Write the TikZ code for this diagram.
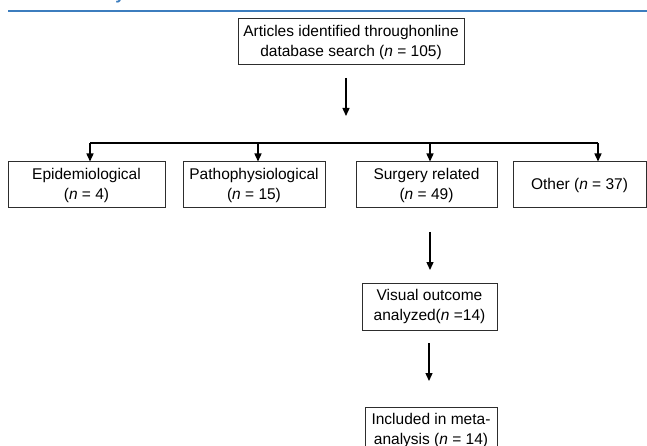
\documentclass[tikz,border=0pt]{standalone}
\usepackage{fontspec}
\setmainfont{Liberation Sans}
\usetikzlibrary{arrows.meta}
\definecolor{headblue}{RGB}{60,125,190}
\definecolor{boxgray}{RGB}{45,45,45}
\begin{document}
\begin{tikzpicture}[x=1pt, y=-1pt,
    font=\fontsize{15.5}{20}\selectfont,
    box/.style={draw=boxgray, line width=1pt, inner sep=0pt, align=center},
    flow/.style={-{Triangle[length=8pt,width=7pt]}, line width=1.4pt, black}]
  \useasboundingbox (0,0) rectangle (647,446);
  % Heading rule (cut at the top)
  \draw[headblue, line width=1.2pt] (8,11) -- (647,11);
  \node[anchor=base, text=headblue, font=\fontsize{17}{20}\selectfont\bfseries] (head) at (120,0) {y};
  % Search box
  \node[box, minimum width=226pt, minimum height=46pt] (search) at (351,42)
    {Articles identified throughonline\\database search (\textit{n} = 105)};
  \coordinate (s1) at (346,78);
  \coordinate (s2) at (346,116);
  \draw[flow] (s1) -- (s2);
  % Split line
  \coordinate (sl) at (90,143);
  \coordinate (sr) at (598,143);
  \draw[line width=1.4pt] (sl) -- (sr);
  % Category boxes
  \foreach \name/\cx/\w/\dx/\txt in {
      epi/86.5/157/90/{Epidemiological\\(\textit{n} = 4)},
      patho/254/142/258/{Pathophysiological\\(\textit{n} = 15)},
      surg/426.5/141/430/{Surgery related\\(\textit{n} = 49)},
      other/579.5/133/598/{Other (\textit{n} = 37)}}
  {
    \node[box, minimum width=\w pt, minimum height=46pt] (\name) at (\cx,185) {\txt};
    \coordinate (\name top) at (\dx,143);
    \draw[flow] (\name top) -- (\name top |- \name.north);
  }
  % Surgery chain
  \coordinate (a1) at (430,232);
  \coordinate (a2) at (430,270);
  \draw[flow] (a1) -- (a2);
  \node[box, minimum width=135pt, minimum height=47pt] (visual) at (429.5,306.5)
    {Visual outcome\\analyzed(\textit{n} =14)};
  \coordinate (b1) at (429,343);
  \coordinate (b2) at (429,381);
  \draw[flow] (b1) -- (b2);
  \node[box, minimum width=132pt, minimum height=47pt] (meta) at (431,430.5)
    {Included in meta-\\analysis (\textit{n} = 14)};
\end{tikzpicture}
\end{document}
